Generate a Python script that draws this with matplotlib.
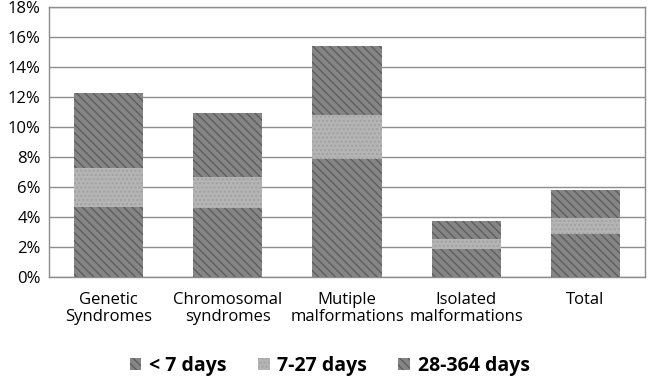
import numpy as np
import matplotlib.pyplot as plt
import matplotlib as mpl
from matplotlib.ticker import PercentFormatter

# -- Data (percent) --
categories = ["Genetic\nSyndromes", "Chromosomal\nsyndromes", "Mutiple\nmalformations",
              "Isolated\nmalformations", "Total"]
under_7 = [4.7, 4.6, 7.9, 1.85, 2.85]
d7_27 = [2.6, 2.05, 2.9, 0.7, 1.1]
d28_364 = [5.0, 4.3, 4.6, 1.2, 1.85]
series_labels = ["< 7 days", "7-27 days", "28-364 days"]

mpl.rcParams.update({"font.family": ["Open Sans", "DejaVu Sans"], "hatch.linewidth": 0.9})

fig = plt.figure(figsize=(6.53, 3.78), dpi=100)
ax = fig.add_axes([49 / 653, 1 - 277 / 378, 596 / 653, 270 / 378])

x = np.arange(len(categories))
w = 0.58
dark = dict(color="#858585", edgecolor="#5a5a5a", hatch="\\\\\\\\", linewidth=0)
light = dict(color="#b4b4b4", edgecolor="#a0a0a0", hatch="....", linewidth=0)

b1 = ax.bar(x, under_7, w, label=series_labels[0], zorder=3, **dark)
b2 = ax.bar(x, d7_27, w, bottom=under_7, label=series_labels[1], zorder=3, **light)
bottom2 = np.array(under_7) + np.array(d7_27)
b3 = ax.bar(x, d28_364, w, bottom=bottom2, label=series_labels[2], zorder=3, **dark)

ax.set_xlim(-0.5, len(categories) - 0.5)
ax.set_ylim(0, 18)
ax.set_yticks(np.arange(0, 19, 2))
ax.yaxis.set_major_formatter(PercentFormatter(decimals=0))
ax.set_xticks(x)
ax.set_xticklabels(categories, fontsize=12, linespacing=1.1)
ax.tick_params(axis="y", labelsize=12, length=0, pad=6)
ax.tick_params(axis="x", length=0, pad=11)
ax.grid(axis="y", color="#8c8c8c", linewidth=1.0, zorder=0)
for s in ax.spines.values():
    s.set_color("#8c8c8c")
    s.set_linewidth(1.0)

leg = fig.legend(handles=[b1, b2, b3], loc="center", bbox_to_anchor=(0.505, 1 - 366 / 378),
                 ncol=3, frameon=False, prop={"size": 14, "weight": "bold"},
                 handlelength=0.6, handleheight=0.6, handletextpad=0.4, columnspacing=1.6)

fig.savefig("out.png", dpi=100)
